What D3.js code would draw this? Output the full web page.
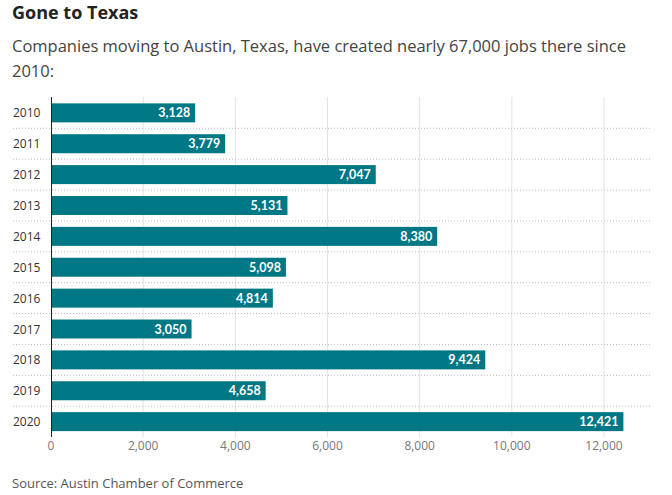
<!DOCTYPE html>
<html><head><meta charset="utf-8">
<script src="https://cdn.jsdelivr.net/npm/d3@7"></script>
<style>
body{margin:0;background:#fff;font-family:"Open Sans",sans-serif}
</style></head><body>
<svg id="chart" width="672" height="495"></svg>
<script>
'use strict'

const YEARS = ['2010','2011','2012','2013','2014','2015','2016','2017','2018','2019','2020']
const JOBS = [3128, 3779, 7047, 5131, 8380, 5098, 4814, 3050, 9424, 4658, 12421]
const X_TICKS = [0, 2000, 4000, 6000, 8000, 10000, 12000]

const svg = d3.select('#chart')
const x = d3.scaleLinear().domain([0, 12000]).range([51, 604])
const y = d3.scaleBand().domain(YEARS).range([97.5, 437]).paddingInner(0.385).paddingOuter(0.19)

svg.append('text').attr('x', 12).attr('y', 19).attr('font-size', 18).attr('font-weight', 700)
    .attr('fill', '#222').text('Gone to Texas')
svg.append('text').attr('x', 12).attr('y', 52).attr('font-size', 16.5).attr('fill', '#444')
    .text('Companies moving to Austin, Texas, have created nearly 67,000 jobs there since')
svg.append('text').attr('x', 12).attr('y', 77).attr('font-size', 16.5).attr('fill', '#444').text('2010:')

// vertical grid
svg.append('g').selectAll('line').data(X_TICKS.slice(1)).join('line')
    .attr('x1', d => x(d)).attr('x2', d => x(d)).attr('y1', 97).attr('y2', 437)
    .attr('stroke', '#e3e3e3')

// dotted row separators
const step = y.step()
svg.append('g').selectAll('line').data(YEARS.slice(0, -1)).join('line')
    .attr('x1', 13).attr('x2', 651)
    .attr('y1', d => y(d) + y.bandwidth() + (step - y.bandwidth()) / 2)
    .attr('y2', d => y(d) + y.bandwidth() + (step - y.bandwidth()) / 2)
    .attr('stroke', '#bbb').attr('stroke-dasharray', '1,2')

const rows = YEARS.map((yr, i) => ({ yr, v: JOBS[i] }))
svg.append('g').selectAll('rect').data(rows).join('rect')
    .attr('x', x(0)).attr('y', d => y(d.yr)).attr('height', y.bandwidth())
    .attr('width', d => x(d.v) - x(0)).attr('fill', '#007784')

svg.append('g').selectAll('text').data(rows).join('text')
    .attr('x', d => x(d.v) - 5).attr('y', d => y(d.yr) + y.bandwidth() / 2 + 4.5)
    .attr('text-anchor', 'end').attr('fill', '#fff').attr('font-size', 12.5)
    .attr('font-family', 'Lato, sans-serif').attr('font-weight', 700)
    .text(d => d3.format(',')(d.v))

svg.append('g').selectAll('text').data(YEARS).join('text')
    .attr('x', 13).attr('y', d => y(d) + y.bandwidth() / 2 + 4.5)
    .attr('font-size', 12).attr('fill', '#333').text(d => d)

svg.append('line').attr('x1', 51.5).attr('x2', 51.5).attr('y1', 97).attr('y2', 437).attr('stroke', '#222')

svg.append('g').selectAll('text').data(X_TICKS).join('text')
    .attr('x', d => x(d)).attr('y', 450).attr('text-anchor', 'middle')
    .attr('font-size', 12).attr('fill', '#777').text(d => d3.format(',')(d))

svg.append('text').attr('x', 12).attr('y', 488).attr('font-size', 13).attr('fill', '#555')
    .text('Source: Austin Chamber of Commerce')
</script>
</body></html>
